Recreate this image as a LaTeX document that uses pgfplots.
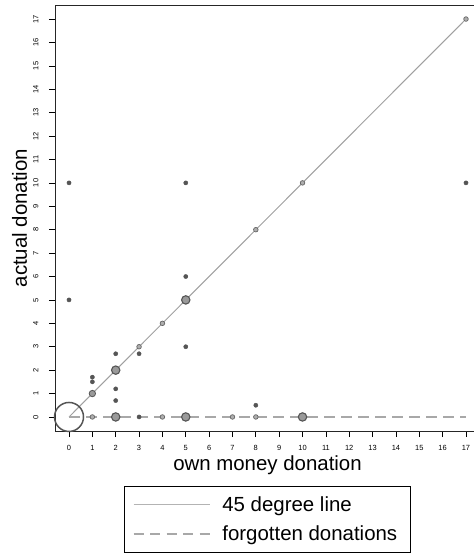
\documentclass[border=0pt]{standalone}
\usepackage{pgfplots}
\pgfplotsset{compat=1.18}
\usepackage{fontspec}
\setmainfont{Liberation Sans}
\usetikzlibrary{calc}
\definecolor{ptcol}{HTML}{555555}
\definecolor{ringfill}{HTML}{9A9A9A}
\definecolor{linecol}{HTML}{A0A0A0}
\definecolor{dashcol}{HTML}{A8A8A8}
\begin{document}
\begin{tikzpicture}
\begin{axis}[
  at={(0,0)}, anchor=south west,
  scale only axis, width=425bp, height=426bp,
  xmin=-0.6, xmax=17.6, ymin=-0.6, ymax=17.6,
  xtick={0,...,17}, ytick={0,...,17},
  tick align=outside, xtick pos=left, ytick pos=left,
  major tick length=6bp,
  tick style={black, line width=0.7bp},
  axis line style={line width=0.8bp, black!85},
  /pgf/number format/assume math mode=true,
  ticklabel style={font=\fontsize{7.5}{8}\selectfont},
  yticklabel style={rotate=90, anchor=south},
  xticklabel shift=5bp,
  yticklabel shift=7bp,
  clip=false,
  xlabel={own money donation},
  ylabel={actual donation},
  every axis x label/.style={at={($(rel axis cs:0.5,0)+(0,-39bp)$)}, anchor=base, font=\fontsize{20.5}{24}\selectfont},
  every axis y label/.style={at={($(rel axis cs:0,0.5)+(-28bp,0)$)}, rotate=90, anchor=base, font=\fontsize{20.5}{24}\selectfont},
  legend style={at={(0.5,0)}, anchor=north, yshift=-55bp,
    draw=black, line width=0.8bp,
    font=\fontsize{20.5}{24}\selectfont,
    inner xsep=8.5bp, inner ysep=5bp, row sep=3bp,
    nodes={inner sep=5bp},
    /tikz/every odd column/.style={column sep=7bp}},
  legend cell align=left,
]
% 45 degree line
\addplot[linecol, line width=1bp,
  legend image code/.code={\draw[linecol!80, line width=1bp] (0bp,0bp) -- (76bp,0bp);}]
  coordinates {(0,0) (17,17)};
\addlegendentry{45 degree line}
% forgotten donations
\addplot[dashcol, line width=1.6bp, dash pattern=on 11bp off 6bp,
  legend image code/.code={\draw[dashcol, line width=1.6bp, dash pattern=on 10bp off 6.5bp] (0bp,0bp) -- (76bp,0bp);}]
  coordinates {(0,0) (17,0)};
\addlegendentry{forgotten donations}
% small filled dots
\addplot[only marks, forget plot, mark=*, mark size=2.1bp, mark options={draw=ptcol, fill=ptcol}] coordinates {
 (0,10) (0,5) (1,1.7) (1,1.5) (2,2.7) (2,1.2) (2,0.7) (3,2.7)
 (5,10) (5,6) (5,3) (8,0.5) (17,10) (3,0)
};
% small rings
\addplot[only marks, forget plot, mark=*, mark size=2.3bp, mark options={draw=ptcol!90, fill=ringfill!80, line width=0.7bp}] coordinates {
 (1,0) (4,0) (7,0) (8,0) (3,3) (4,4) (8,8) (10,10) (17,17)
};
% medium ring
\addplot[only marks, forget plot, mark=*, mark size=3.2bp, mark options={draw=ptcol, fill=ringfill, line width=0.8bp}] coordinates {
 (1,1)
};
% larger rings
\addplot[only marks, forget plot, mark=*, mark size=4.2bp, mark options={draw=ptcol, fill=ringfill, line width=1.1bp}] coordinates {
 (2,2) (5,5) (2,0) (5,0) (10,0)
};
% big circle
\addplot[only marks, forget plot, mark=o, mark size=14.5bp, mark options={draw=ptcol, line width=1.5bp}] coordinates {
 (0,0)
};
\end{axis}
\pgfresetboundingbox
\path (-55bp,-124bp) rectangle (419bp,431bp);
\end{tikzpicture}
\end{document}
